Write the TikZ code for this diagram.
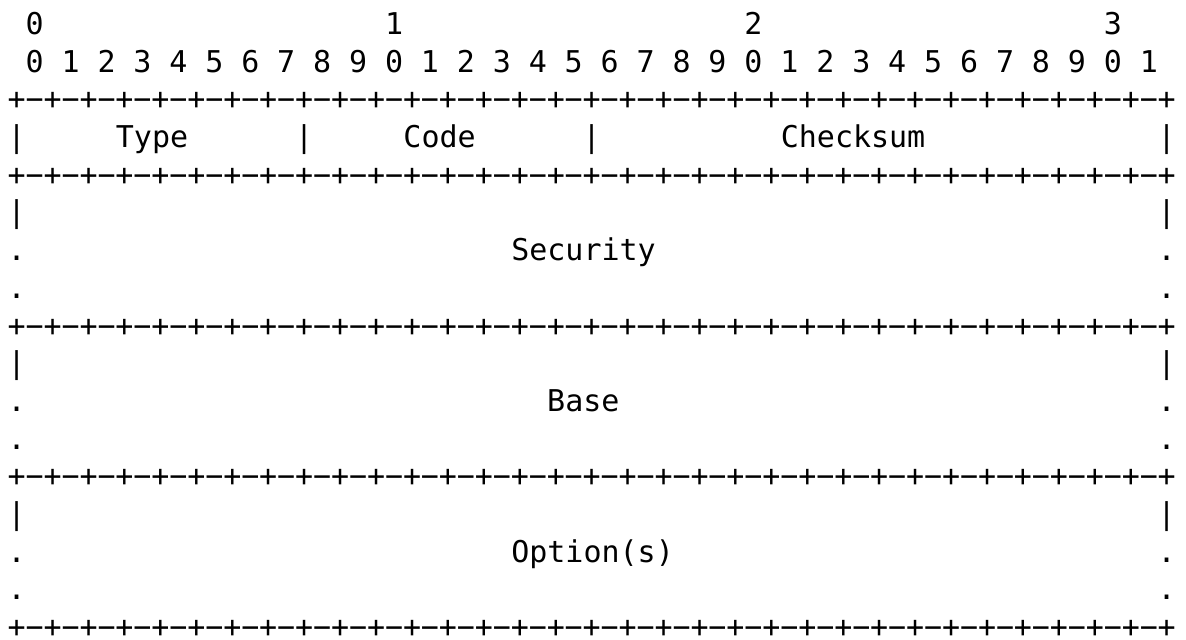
\documentclass[tikz,border=0pt]{standalone}
\usepackage{fontspec}
\setmonofont{DejaVu Sans Mono}
\tikzset{
  ch/.style={inner sep=0pt, anchor=base, font=\ttfamily\fontsize{15}{18}\selectfont},
  word/.style={ch, anchor=base west}
}

\begin{document}
\begin{tikzpicture}[x=8.985pt, y=-18.85pt]
  \useasboundingbox (-0.929,-0.915) rectangle (65.07,16.045);

  % bit numbers
  \foreach \t/\c in {0/1,1/21,2/41,3/61}
    \node[ch] (tens\t) at (\c,0) {\t};
  \foreach \i in {0,...,31} {
    \pgfmathtruncatemacro{\d}{mod(\i,10)}
    \node[ch] (bit\i) at (2*\i+1,1) {\d};
  }

  % +-+ rulers
  \foreach \r in {2,4,8,12,16} {
    \foreach \c in {0,2,...,64}
      \node[ch] (p\r-\c) at (\c,\r) {+};
    \foreach \c in {1,3,...,63}
      \node[ch] (m\r-\c) at (\c,\r) {−};
  }

  % side bars and dots
  \foreach \c in {0,16,32,64}
    \node[ch] (bar3-\c) at (\c,3) {|};
  \foreach \r in {5,9,13}
    \foreach \c in {0,64}
      \node[ch] (bar\r-\c) at (\c,\r) {|};
  \foreach \r in {6,7,10,11,14,15}
    \foreach \c in {0,64}
      \node[ch] (dot\r-\c) at (\c,\r) {.};

  % field names
  \node[word] (type) at (5.5,3) {Type};
  \node[word] (code) at (21.5,3) {Code};
  \node[word] (checksum) at (42.5,3) {Checksum};
  \node[word] (security) at (27.5,6) {Security};
  \node[word] (base) at (29.5,10) {Base};
  \node[word] (options) at (27.5,14) {Option(s)};
\end{tikzpicture}
\end{document}
